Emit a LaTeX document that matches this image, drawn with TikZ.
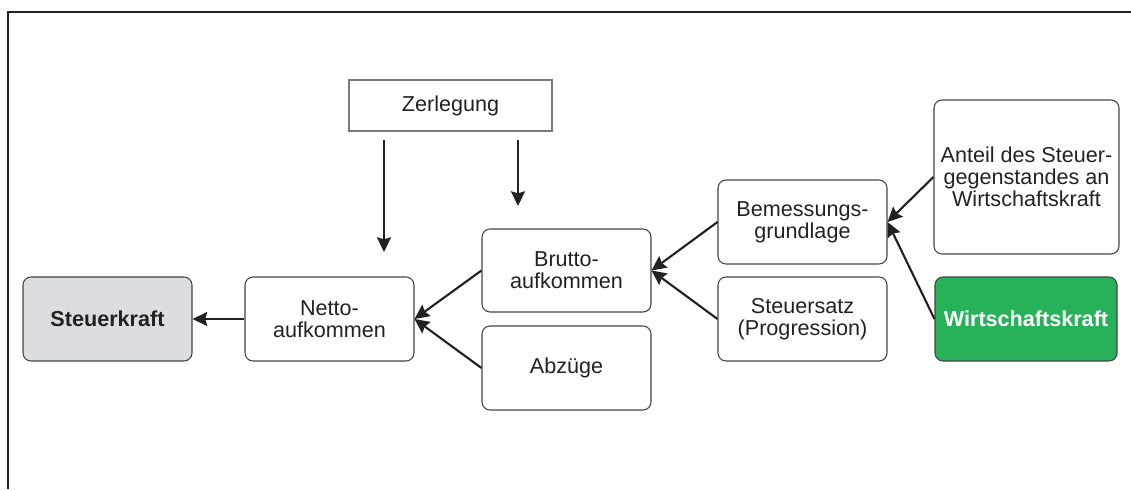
\documentclass[tikz,border=0pt]{standalone}
\usepackage{fontspec}
\setmainfont{Liberation Sans}
\usetikzlibrary{arrows.meta}
\definecolor{boxgray}{HTML}{DCDDE0}
\definecolor{wgreen}{HTML}{27B25A}
\definecolor{ink}{HTML}{222222}
\begin{document}
\begin{tikzpicture}[x=0.75pt,y=-0.75pt,>={Stealth[length=11pt,width=10.5pt,inset=1.5pt]},
    box/.style={draw=ink!85,rounded corners=6pt,line width=0.8pt,minimum width=126.75pt,minimum height=63pt,align=center,text=ink,font=\fontsize{16.2}{16.5}\selectfont},
    arr/.style={->,line width=1.6pt,draw=ink}]
\useasboundingbox (0,0) rectangle (1131,489);
\draw[ink,line width=1.1pt](8,489)--(8,12)--(1131,12);
% Knoten
\node[box,fill=boxgray,font=\bfseries\fontsize{16.2}{16.5}\selectfont](steuer) at (107.5,319){Steuerkraft};
\node[box](netto) at (329.5,319){Netto-\\aufkommen};
\node[box,minimum height=62.25pt](brutto) at (566.5,270.5){Brutto-\\aufkommen};
\node[box](abzug) at (566.5,368){Abz\"uge};
\node[box](bemess) at (802.5,222){Bemessungs-\\grundlage};
\node[box](satz) at (802.5,319){Steuersatz\\(Progression)};
\node[box,minimum width=138.75pt,minimum height=115.5pt](anteil) at (1026.5,177){Anteil des Steuer-\\gegenstandes an\\Wirtschaftskraft};
\node[box,fill=wgreen,text=white,minimum width=136.5pt,font=\bfseries\fontsize{16.2}{16.5}\selectfont](wirt) at (1026,319){Wirtschaftskraft};
\node[box,rounded corners=0pt,draw=ink!60,minimum width=152.25pt,minimum height=38.25pt](zerl) at (450.5,105.5){Zerlegung};
% Pfeile
\coordinate (z1) at (384,140);
\coordinate (n1) at (384,252);
\coordinate (z2) at (518,140);
\coordinate (b1) at (518,206);
\draw[arr](z1)--(n1);
\draw[arr](z2)--(b1);
\draw[arr](netto.west)--(steuer.east);
\draw[arr](brutto.west)--(netto.east);
\draw[arr](abzug.west)--(netto.east);
\draw[arr](bemess.west)--(brutto.east);
\draw[arr](satz.west)--(brutto.east);
\draw[arr](anteil.west)--(bemess.east);
\draw[arr](wirt.west)--(bemess.east);
\end{tikzpicture}
\end{document}
